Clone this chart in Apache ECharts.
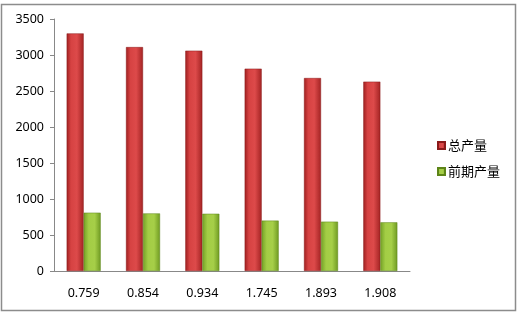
<!DOCTYPE html>
<html><head><meta charset="utf-8">
<script src="https://cdn.jsdelivr.net/npm/echarts@6/dist/echarts.min.js"></script>
<style>html,body{margin:0;padding:0;background:#fff}#c{width:519px;height:315px}</style>
</head><body><div id="c"></div>
<script>
const categories = ['0.759','0.854','0.934','1.745','1.893','1.908'];
const totalOutput = [3300, 3110, 3060, 2810, 2680, 2630];
const earlyOutput = [810, 800, 795, 700, 685, 676];
const seriesNames = ['总产量', '前期产量'];

const chart = echarts.init(document.getElementById('c'), null, {renderer:'canvas'});
const redGrad = new echarts.graphic.LinearGradient(0,0,1,0,[
  {offset:0,color:'#9e1f1f'},{offset:0.25,color:'#d64242'},{offset:0.6,color:'#dd4a4a'},{offset:1,color:'#a32323'}]);
const greenGrad = new echarts.graphic.LinearGradient(0,0,1,0,[
  {offset:0,color:'#73a026'},{offset:0.3,color:'#a3cd45'},{offset:0.65,color:'#a6cf48'},{offset:1,color:'#6f9a22'}]);
chart.setOption({
  animation:false,
  textStyle:{fontFamily:'"Noto Sans", "Noto Sans CJK SC", sans-serif'},
  graphic:[{type:'rect',shape:{x:1.5,y:4.5,width:514,height:306},style:{fill:'none',stroke:'#8c8c8c',lineWidth:1.5},silent:true}],
  grid:{left:54,top:19,right:109,bottom:44},
  legend:{
    orient:'vertical', left:432, top:134, itemWidth:7, itemHeight:7, itemGap:13,
    icon:'rect',
    textStyle:{fontSize:13,color:'#000',padding:[0,0,0,-2],fontFamily:'"Noto Sans CJK SC", sans-serif'},
    data:seriesNames
  },
  xAxis:{type:'category',data:categories,
    axisLine:{lineStyle:{color:'#888'}},axisTick:{show:false},
    axisLabel:{color:'#000',fontSize:12.5,margin:16}},
  yAxis:{type:'value',min:0,max:3500,interval:500,
    axisLine:{show:true,lineStyle:{color:'#888'}},axisTick:{show:true,length:4,lineStyle:{color:'#888'}},
    splitLine:{show:false},
    axisLabel:{color:'#000',fontSize:12.5,margin:10,formatter:v=>String(v)}},
  series:[
    {name:seriesNames[0],type:'bar',data:totalOutput,barWidth:17,barGap:'0%',
     itemStyle:{color:redGrad,borderColor:'#8a1a1a',borderWidth:0.5}},
    {name:seriesNames[1],type:'bar',data:earlyOutput,barWidth:17,
     itemStyle:{color:greenGrad,borderColor:'#5d8418',borderWidth:0.5}}
  ]
});
</script></body></html>
